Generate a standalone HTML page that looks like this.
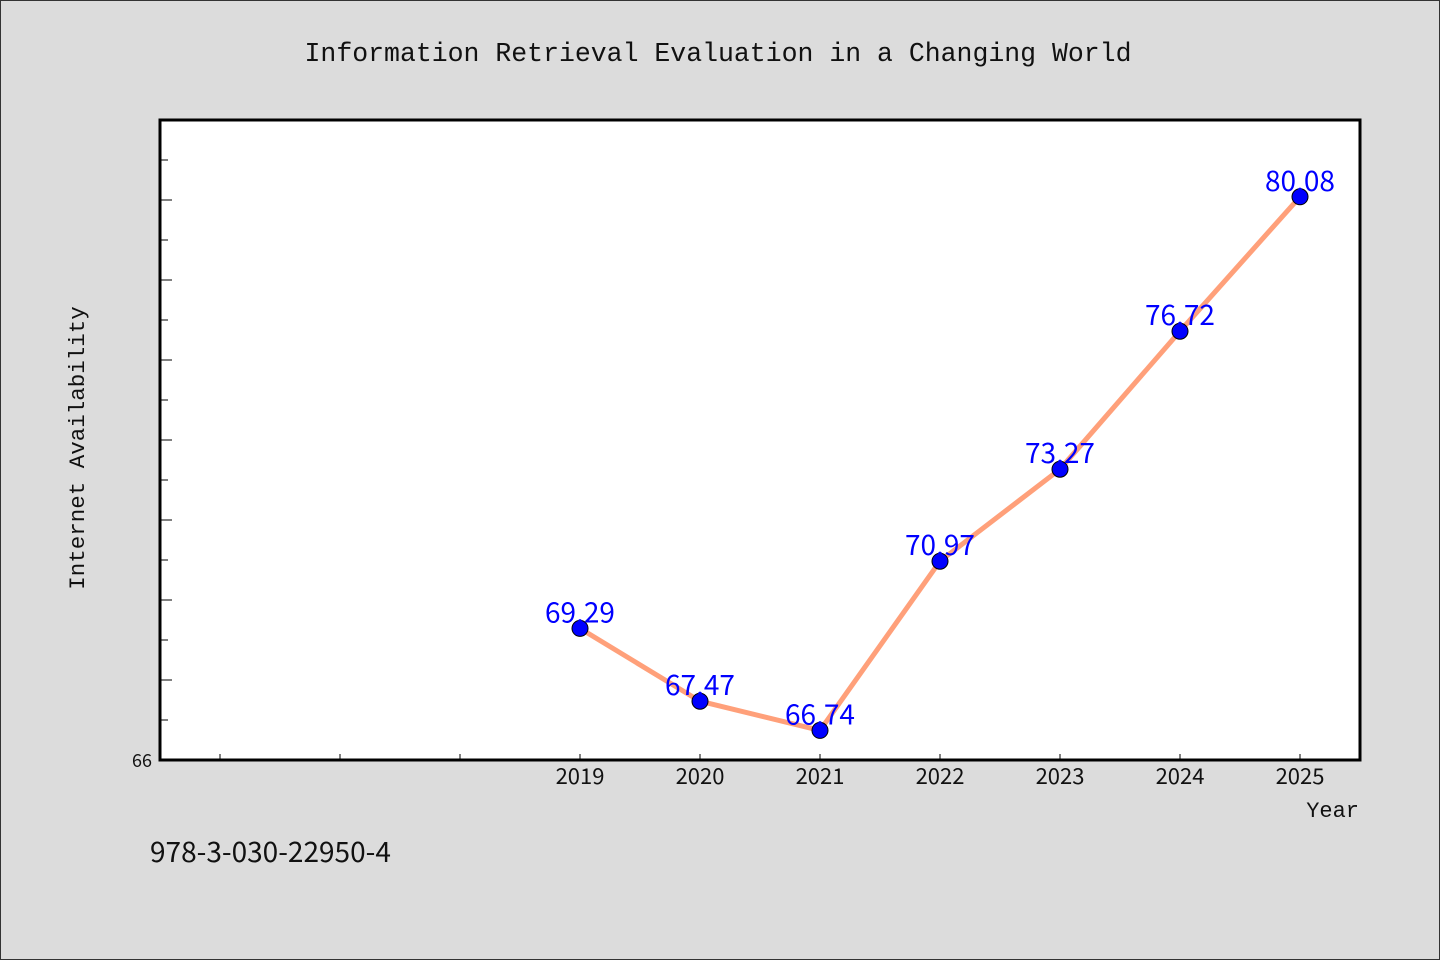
<!DOCTYPE html>
<html><head><meta charset="utf-8"><style>
body{margin:0;background:#dcdcdc;}
svg{display:block;}
.mono{font-family:"Liberation Mono",monospace;}
.sans{font-family:"Noto Sans CJK SC","WenQuanYi Zen Hei","Liberation Sans",sans-serif;}
</style></head><body>
<svg id="chart" width="1440" height="960" viewBox="0 0 1440 960">
<rect x="0.5" y="0.5" width="1439" height="959" fill="#dcdcdc" stroke="#333"/>
<text x="718" y="61" text-anchor="middle" class="mono" font-size="26.5" fill="#111">Information Retrieval Evaluation in a Changing World</text>
<rect x="160" y="120" width="1200" height="640" fill="#fff"/>
<g id="axes"></g>
<g id="marks"></g>
<rect x="160" y="120" width="1200" height="640" fill="none" stroke="#000" stroke-width="3"/>
<text x="84" y="448" transform="rotate(-90 84 448)" text-anchor="middle" class="mono" font-size="22.5" fill="#111">Internet Availability</text>
<text x="1359" y="817" text-anchor="end" class="mono" font-size="22" fill="#111">Year</text>
<text x="150" y="862" class="sans" font-size="28" fill="#111">978-3-030-22950-4</text>
</svg>
<script>
const years=[2019,2020,2021,2022,2023,2024,2025];
const values=[69.29,67.47,66.74,70.97,73.27,76.72,80.08];
const labels=["69.29","67.47","66.74","70.97","73.27","76.72","80.08"];
const xTickYears=[2016,2017,2018,2019,2020,2021,2022,2023,2024,2025];
const xTickLabels=["","","","2019","2020","2021","2022","2023","2024","2025"];
const yMin=66,yMax=82,xMin=2015.5,xMax=2025.5;
const L=160,R=1360,T=120,B=760;
const sx=v=>L+(v-xMin)/(xMax-xMin)*(R-L);
const sy=v=>B-(v-yMin)/(yMax-yMin)*(B-T);
const NS="http://www.w3.org/2000/svg";
const axes=document.getElementById('axes'),marks=document.getElementById('marks');
function mk(tag,attrs,parent){const e=document.createElementNS(NS,tag);for(const k in attrs)e.setAttribute(k,attrs[k]);parent.appendChild(e);return e;}
for(let v=67;v<=81;v++){
  const t=mk('line',{x1:L,x2:L+(v%2===0?12:8),y1:sy(v),y2:sy(v),stroke:'#000','stroke-width':1},axes);
  
  
}
const y0=mk('text',{x:152,y:B+7,'text-anchor':'end','font-size':18,fill:'#111',class:'sans'},axes);
y0.textContent='66';


xTickYears.forEach((yr,i)=>{
  const t=mk('line',{x1:sx(yr),x2:sx(yr),y1:B,y2:B-6,stroke:'#000','stroke-width':1},axes);
  
  
  if(xTickLabels[i]){
    const l=mk('text',{x:sx(yr),y:B+24,'text-anchor':'middle','font-size':22,fill:'#111',class:'sans'},axes);
    l.textContent=xTickLabels[i];
    
    
  }
});
const pl=mk('polyline',{points:years.map((y,i)=>sx(y)+','+sy(values[i])).join(' '),fill:'none',stroke:'#ffa07a','stroke-width':5,'stroke-linejoin':'round'},marks);


years.forEach((y,i)=>{
  const c=mk('circle',{cx:sx(y),cy:sy(values[i]),r:8,fill:'#0000ff',stroke:'#000','stroke-width':1},marks);
  
  
  const t=mk('text',{x:sx(y),y:sy(values[i])-6,'text-anchor':'middle','font-size':28,fill:'#0000ff',class:'sans'},marks);
  t.textContent=labels[i];
  
  
});
</script>
</body></html>
